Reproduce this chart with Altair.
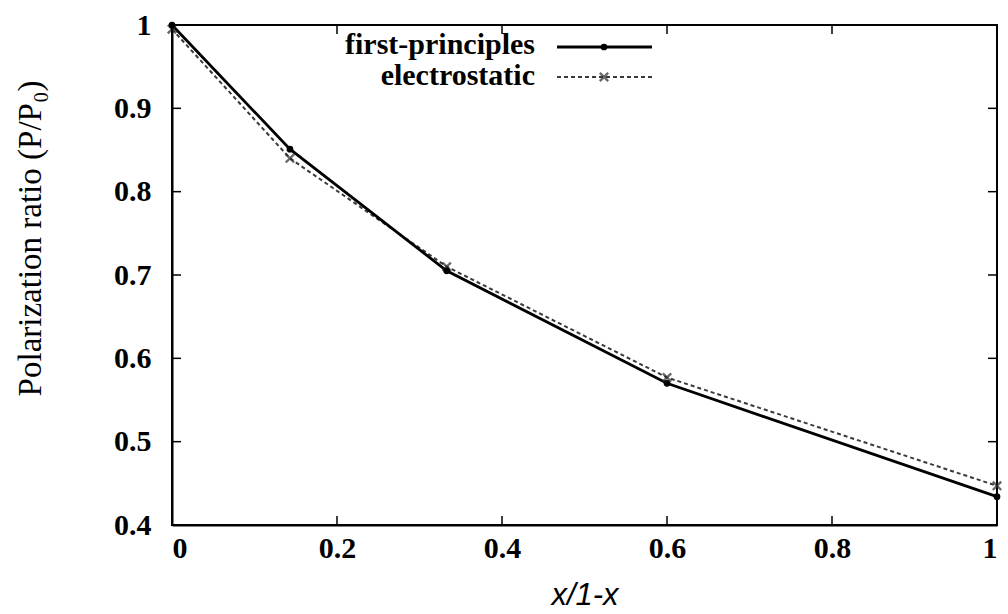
import altair as alt
import pandas as pd

x_vals = [0.0, 0.143, 0.333, 0.6, 1.0]
first_principles = [1.0, 0.851, 0.705, 0.570, 0.434]
electrostatic = [0.995, 0.840, 0.710, 0.577, 0.447]
series_names = ["first-principles", "electrostatic"]
y_ticks = [0.4, 0.5, 0.6, 0.7, 0.8, 0.9, 1.0]
x_ticks = [0.0, 0.2, 0.4, 0.6, 0.8, 1.0]

W, H = 825, 500

df = pd.DataFrame({
    "x": x_vals * 2,
    "y": first_principles + electrostatic,
    "series": [series_names[0]] * 5 + [series_names[1]] * 5,
})
fp_df = df[df.series == series_names[0]]
es_df = df[df.series == series_names[1]]

xs = alt.Scale(domain=[0, 1], nice=False, zero=False)
ys = alt.Scale(domain=[0.4, 1.0], nice=False, zero=False)

label_font = "Liberation Serif"

x_axis = alt.Axis(values=x_ticks, format="~g", title="x/1-x", grid=False,
                  tickSize=0, domainColor="black", domainWidth=2,
                  labelFont=label_font, labelFontWeight="bold", labelFontSize=30,
                  labelColor="black", labelPadding=8,
                  titleFont="Liberation Sans", titleFontStyle="italic",
                  titleFontWeight="normal", titleFontSize=31, titleColor="black",
                  titlePadding=17)
y_axis = alt.Axis(values=y_ticks, format="~g", title="Polarization ratio (P/P₀)",
                  grid=False, tickSize=0, domainColor="black", domainWidth=2,
                  labelFont=label_font, labelFontWeight="bold", labelFontSize=30,
                  labelColor="black", labelPadding=21,
                  titleFont=label_font, titleFontWeight="normal", titleFontSize=33,
                  titleColor="black", titlePadding=66, titleY=213)

base_fp = alt.Chart(fp_df)
base_es = alt.Chart(es_df)

es_line = base_es.mark_line(color="#3a3a3a", strokeWidth=2, strokeDash=[4, 3]).encode(
    x=alt.X("x:Q", scale=xs, axis=x_axis),
    y=alt.Y("y:Q", scale=ys, axis=y_axis),
)
es_pts = base_es.mark_point(shape="M-1,-1L1,1M-1,1L1,-1", size=70, color="#2a2a2a",
                            strokeWidth=2.4, filled=False).encode(
    x=alt.X("x:Q", scale=xs), y=alt.Y("y:Q", scale=ys))
fp_line = base_fp.mark_line(color="black", strokeWidth=2.8).encode(
    x=alt.X("x:Q", scale=xs), y=alt.Y("y:Q", scale=ys))
fp_pts = base_fp.mark_point(shape="circle", size=45, color="black", filled=True, opacity=1).encode(
    x=alt.X("x:Q", scale=xs), y=alt.Y("y:Q", scale=ys))

# inward ticks
tick_df_y = pd.DataFrame({"v": y_ticks})
tick_df_x = pd.DataFrame({"v": x_ticks})
yt_left = alt.Chart(tick_df_y).mark_rule(color="black", strokeWidth=1.5).encode(
    y=alt.Y("v:Q", scale=ys), x=alt.value(0), x2=alt.value(9))
yt_right = alt.Chart(tick_df_y).mark_rule(color="black", strokeWidth=1.5).encode(
    y=alt.Y("v:Q", scale=ys), x=alt.value(W - 9), x2=alt.value(W))
xt_bot = alt.Chart(tick_df_x).mark_rule(color="black", strokeWidth=1.5).encode(
    x=alt.X("v:Q", scale=xs), y=alt.value(H - 9), y2=alt.value(H))
xt_top = alt.Chart(tick_df_x).mark_rule(color="black", strokeWidth=1.5).encode(
    x=alt.X("v:Q", scale=xs), y=alt.value(0), y2=alt.value(9))

# custom legend (labels left of samples)
leg_df = pd.DataFrame({"name": series_names, "row": [0, 1]})
leg_text_fp = alt.Chart(leg_df[leg_df.row == 0]).mark_text(
    align="right", baseline="middle", font=label_font, fontWeight="bold",
    fontSize=30, color="black").encode(text="name:N", x=alt.value(363), y=alt.value(20))
leg_text_es = alt.Chart(leg_df[leg_df.row == 1]).mark_text(
    align="right", baseline="middle", font=label_font, fontWeight="bold",
    fontSize=30, color="black").encode(text="name:N", x=alt.value(363), y=alt.value(51))
leg_line_fp = alt.Chart(leg_df[leg_df.row == 0]).mark_rule(color="black", strokeWidth=2.8).encode(
    x=alt.value(385), x2=alt.value(480), y=alt.value(22))
leg_line_es = alt.Chart(leg_df[leg_df.row == 1]).mark_rule(
    color="#3a3a3a", strokeWidth=2, strokeDash=[4, 3]).encode(
    x=alt.value(385), x2=alt.value(480), y=alt.value(52))
leg_pt_fp = alt.Chart(leg_df[leg_df.row == 0]).mark_point(
    shape="circle", size=45, color="black", filled=True, opacity=1).encode(
    x=alt.value(432), y=alt.value(22))
leg_pt_es = alt.Chart(leg_df[leg_df.row == 1]).mark_point(
    shape="M-1,-1L1,1M-1,1L1,-1", size=70, color="#2a2a2a", strokeWidth=2.4).encode(
    x=alt.value(432), y=alt.value(52))

chart = alt.layer(
    es_line, fp_line, es_pts, fp_pts,
    yt_left, yt_right, xt_bot, xt_top,
    leg_text_fp, leg_text_es, leg_line_fp, leg_line_es, leg_pt_fp, leg_pt_es,
).properties(
    width=W, height=H,
    autosize=alt.AutoSizeParams(type="none"),
    padding={"left": 172, "top": 25, "right": 11, "bottom": 89},
    background="white",
).configure_view(stroke="black", strokeWidth=2)

chart.save("out.html", embed_options={"renderer": "svg", "actions": False})
